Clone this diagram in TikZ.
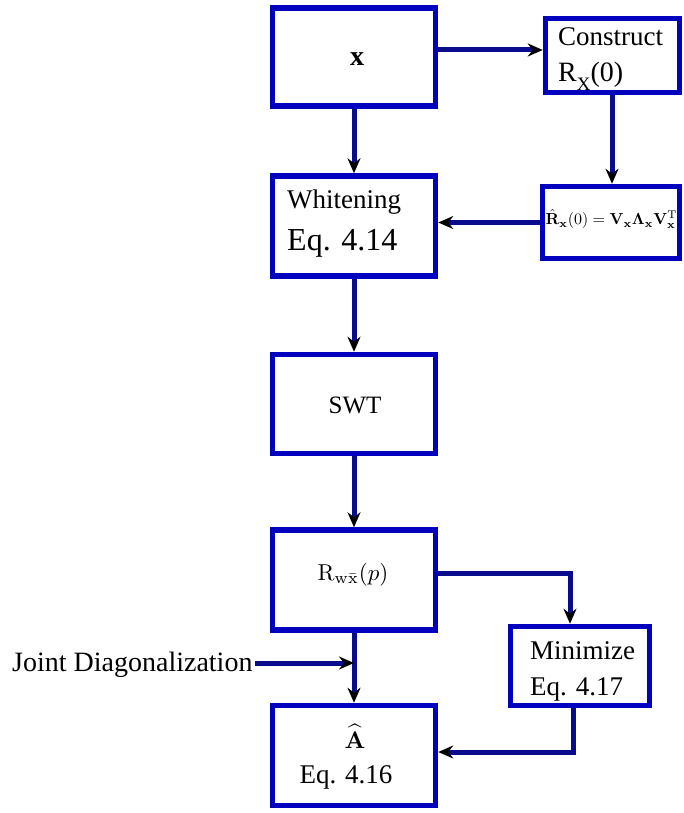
\documentclass[tikz,border=0pt]{standalone}
\usepackage[no-math]{fontspec}
\setmainfont{Liberation Serif}
\usetikzlibrary{arrows.meta}
\definecolor{boxblue}{RGB}{0,0,190}
\definecolor{linenavy}{RGB}{10,10,140}
\newcommand{\fs}[1]{\fontsize{#1}{#1}\selectfont}
\tikzset{
  blk/.style={draw=boxblue, line width=5.5pt, fill=white, inner sep=0pt},
  arr/.style={draw=linenavy, line width=5pt,
    -{Stealth[length=15pt,width=13pt,inset=5pt,color=black]}},
  lbl/.style={inner sep=0pt, text=black},
  mathlbl/.style={lbl, scale=#1, transform shape},
}
\begin{document}
\begin{tikzpicture}[x=1pt,y=-1pt]
\useasboundingbox (0,0) rectangle (683,813);

% blocks
\node[blk, minimum width=163pt, minimum height=98pt]  (X)   at (354,57)    {};
\node[blk, minimum width=134pt, minimum height=74pt]  (C)   at (612.5,55.5) {};
\node[blk, minimum width=163pt, minimum height=100pt] (W)   at (354,226)   {};
\node[blk, minimum width=137pt, minimum height=72pt]  (E)   at (611,222.5) {};
\node[blk, minimum width=163pt, minimum height=99pt]  (S)   at (354,404)   {};
\node[blk, minimum width=163pt, minimum height=100pt] (R)   at (354,580)   {};
\node[blk, minimum width=139pt, minimum height=79pt]  (M)   at (580,666)   {};
\node[blk, minimum width=163pt, minimum height=100pt] (A)   at (354,755.5) {};

% texts
\node[lbl, anchor=base] (tx) at (357,66) {\fs{28}\textbf{x}};
\node[lbl, anchor=base west] (tc1) at (558,46) {\fs{27}Construct};
\node[lbl, anchor=base west] (tc2) at (558,82) {\fs{28}R\raisebox{-0.32em}{\fs{19}X}(0)};
\node[lbl, anchor=base west] (tw1) at (287,208) {\fs{27}Whitening};
\node[lbl, anchor=base west] (tw2) at (287,250) {\fs{32}Eq. 4.14};
\node[mathlbl=1.6] (te) at (611.5,219) {$\hat{\mathbf R}_{\mathbf x}(0)=\mathbf V_{\mathbf x}\mathbf\Lambda_{\mathbf x}\mathbf V_{\mathbf x}^{\mathrm T}$};
\node[lbl, anchor=base] (ts) at (355,413) {\fs{25}SWT};
\node[mathlbl=2.3, anchor=base] (tr) at (353,580) {$\mathrm{R}_{\mathrm{w}\bar{\mathrm{x}}}(p)$};
\node[lbl, anchor=base west] (tm1) at (530,659) {\fs{27}Minimize};
\node[lbl, anchor=base west] (tm2) at (530,695) {\fs{27}Eq. 4.17};
\node[mathlbl=2.4, anchor=base] (ta1) at (355,748) {$\widehat{\mathbf A}$};
\node[lbl, anchor=base] (ta2) at (346,783) {\fs{27}Eq. 4.16};
\node[lbl, anchor=base west] (tj) at (12,671) {\fs{28}Joint Diagonalization};

% connectors
\draw[arr] (X.east |- 0,50) -- (C.west |- 0,50);
\draw[arr] (X) -- (W);
\draw[arr] (C.south -| 612,0) -- (E.north -| 612,0);
\draw[arr] (E.west) -- (W.east |- E.west);
\draw[arr] (W) -- (S);
\draw[arr] (S) -- (R);
\draw[arr] (R.east |- 0,573) -| (M.north -| 570,0);
\draw[arr] (R) -- (A);
\coordinate (jd) at (255,663);
\draw[arr] (jd) -- (jd -| A.north);
\draw[arr] (M.south -| 573,0) |- (A.east |- 0,752);
\end{tikzpicture}
\end{document}
